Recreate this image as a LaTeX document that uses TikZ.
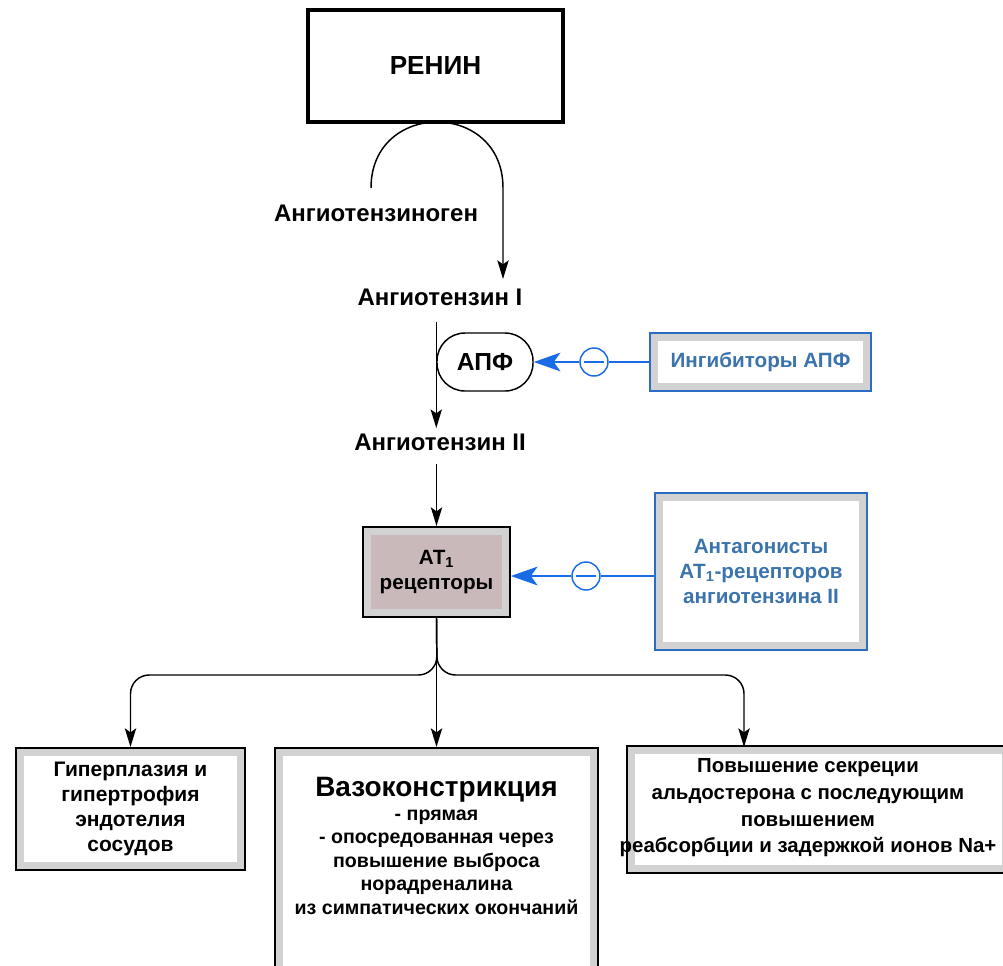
\documentclass[tikz,border=0pt]{standalone}
\usepackage{fontspec}
\setmainfont{Liberation Sans}
\usetikzlibrary{arrows.meta,positioning}
\definecolor{inhblue}{HTML}{2B6CC4}
\definecolor{inhtext}{HTML}{3B73AD}
\definecolor{arrblue}{HTML}{1A6BE6}
\definecolor{recfill}{HTML}{C9B9BB}
\definecolor{dotband}{HTML}{D2D2D2}
\tikzstyle{word}=[inner sep=4pt, font=\bfseries\fontsize{18}{21}\selectfont]
\tikzstyle{arr}=[line width=1.1pt, -{Stealth[length=14pt,width=8.5pt,inset=3pt]}]
\tikzstyle{blueline}=[draw=arrblue, line width=1.5pt]
\tikzstyle{bluearr}=[blueline, -{Stealth[length=20pt,width=14pt,inset=5pt]}]
\tikzstyle{minus}=[circle, draw=arrblue, line width=1.1pt, fill=white, minimum size=21pt, inner sep=0pt,
  path picture={\draw[arrblue, line width=1.1pt] ([xshift=3pt]path picture bounding box.west) -- ([xshift=-3pt]path picture bounding box.east);}]
\tikzset{
  band/.style 2 args={draw=#1, fill=dotband, align=center,
    path picture={\fill[#2] ([shift={(6pt,-6pt)}]path picture bounding box.north west) rectangle ([shift={(-6pt,6pt)}]path picture bounding box.south east);}},
}
\begin{document}
\begin{tikzpicture}[x=0.75pt,y=-0.75pt]
  \clip (0,0) rectangle (1003,965);
  \fill[white] (0,0) rectangle (1003,965);
  % cascade
  \node [draw, line width=3pt, minimum width=191pt, minimum height=84pt,
         font=\bfseries\fontsize{19.6}{22}\selectfont] (renin) at (435.5,66) {РЕНИН};
  \node [word] (gen) at (376,213) {Ангиотензиноген};
  \node [word] (ang1) at (440,297) {Ангиотензин I};
  \node [draw, line width=1.1pt, rounded corners=21pt, minimum width=72pt, minimum height=43.5pt,
         font=\bfseries\fontsize{18.5}{21}\selectfont] (apf) at (485,362) {АПФ};
  \node [word] (ang2) at (440,442) {Ангиотензин II};
  \node [band={black}{recfill}, line width=1.5pt, minimum width=110pt, minimum height=67.5pt,
         font=\bfseries\fontsize{15.5}{18.75}\selectfont] (at1) at (436.5,572) {АТ\textsubscript{1}\\рецепторы};
  % blockers
  \node [band={inhblue}{white}, line width=1.5pt, minimum width=166pt, minimum height=44pt, text=inhtext,
         font=\bfseries\fontsize{15.5}{18.5}\selectfont] (inh) at (760.5,362) {Ингибиторы АПФ};
  \node [band={inhblue}{white}, line width=1.5pt, minimum width=159pt, minimum height=118pt, text=inhtext,
         font=\bfseries\fontsize{15.5}{18.4}\selectfont] (ant) at (761,571.5) {Антагонисты\\АТ\textsubscript{1}-рецепторов\\ангиотензина II};
  \node [minus] (m1) at (594,362) {};
  \node [minus] (m2) at (586,576) {};
  % effects
  \node [band={black}{white}, line width=1.5pt, minimum width=172pt, minimum height=91.5pt,
         font=\bfseries\fontsize{15.75}{18.75}\selectfont] (eff1) at (130.5,809) {Гиперплазия и\\гипертрофия\\эндотелия\\сосудов};
  \node [band={black}{white}, line width=1.5pt, minimum width=242pt, minimum height=180pt] (eff2) at (436.5,868) {};
  \node [font=\bfseries\fontsize{14.7}{17.6}\selectfont, align=center] (eff2txt) at (436.5,846)
        {{\fontsize{21}{24}\selectfont Вазоконстрикция}\\- прямая\\- опосредованная через\\повышение выброса\\норадреналина\\из симпатических окончаний};
  \node [band={black}{white}, line width=1.5pt, minimum width=287pt, minimum height=95pt] (eff3) at (818.5,809.5) {};
  \node [font=\bfseries\fontsize{15.3}{20}\selectfont, align=center] (eff3txt) at (808,808)
        {Повышение секреции\\альдостерона с последующим\\повышением\\реабсорбции и задержкой ионов Na+};
  % connectors
  \coordinate (s) at (371,188);
  \coordinate (j) at (437,675);
  \draw[arr] (s) .. controls (371,100) and (503,100) .. (503,188) -- (503,279);
  \draw[arr, shorten <=8pt] (ang1.south -| apf.west) -- (ang2.north -| apf.west);
  \draw[arr, shorten <=6pt] (ang2.south -| at1.north) -- (at1.north);
  \draw[blueline] (inh.west) -- (m1);
  \draw[bluearr] (m1) -- (apf.east);
  \draw[blueline] (ant.west |- m2) -- (m2);
  \draw[bluearr] (m2) -- (at1.east |- m2);
  \draw[arr, rounded corners=14pt] (at1.south) -- (j) -| (eff1.north);
  \draw[arr] (at1.south) -- (eff2.north);
  \draw[arr, rounded corners=14pt] (at1.south) -- (j) -| (744,747);
\end{tikzpicture}
\end{document}
